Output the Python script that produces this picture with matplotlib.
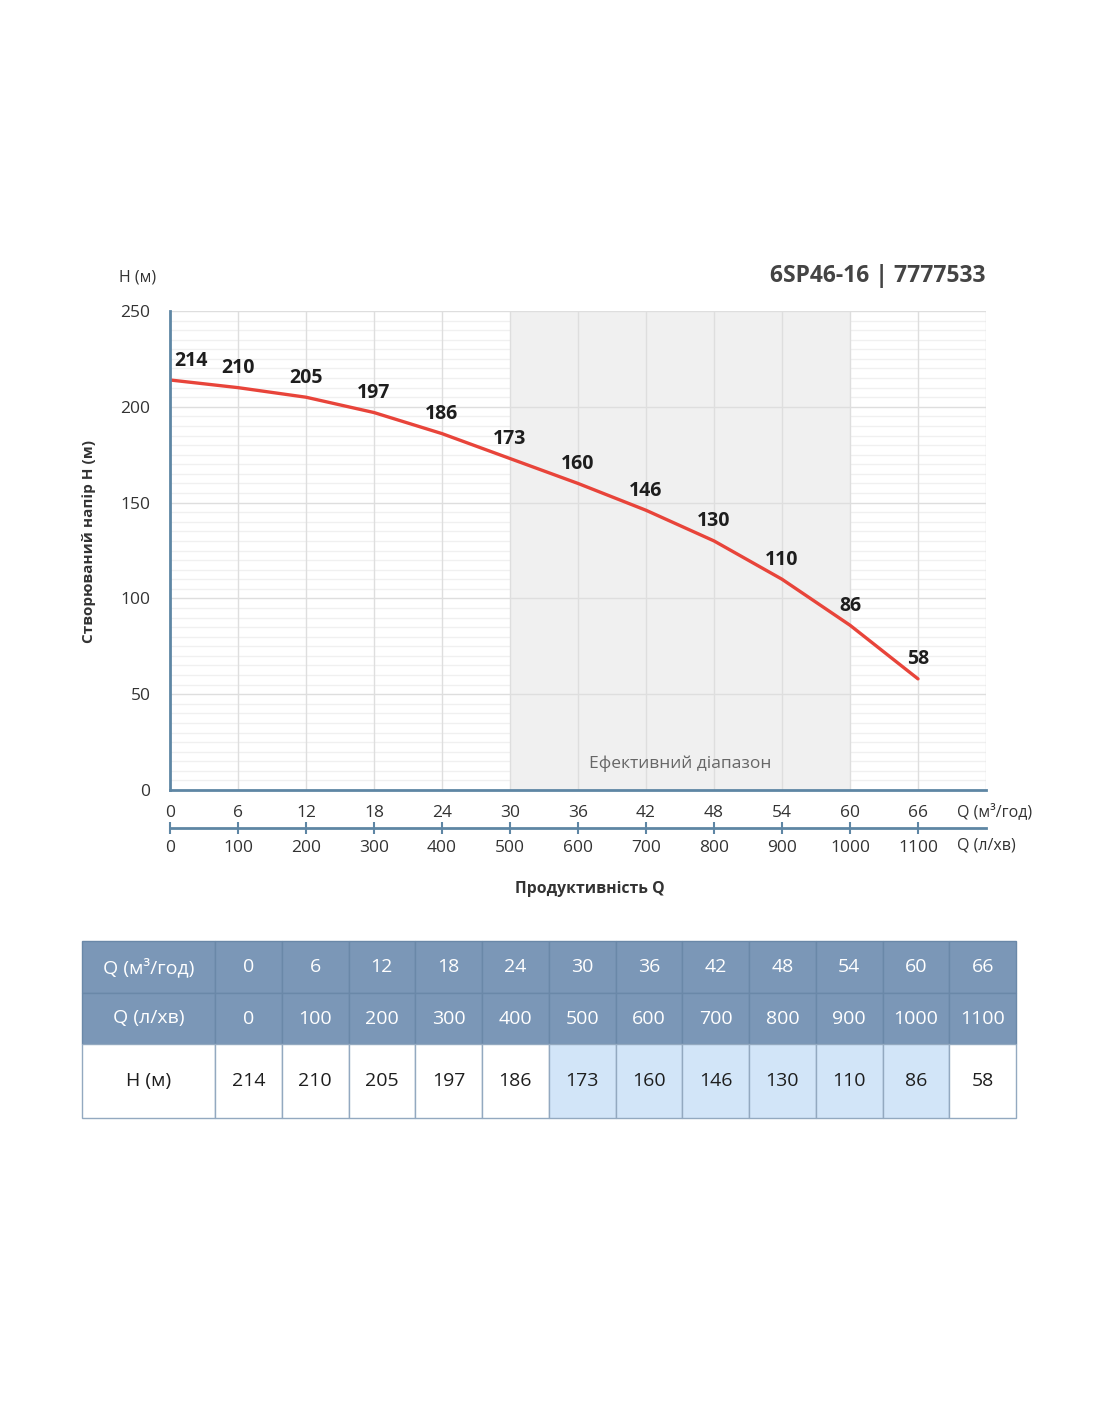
import matplotlib
matplotlib.use("Agg")
import matplotlib.pyplot as plt

plt.rcParams['font.family'] = ['Open Sans', 'DejaVu Sans']

# ---------- дані ----------
q_m3h = [0, 6, 12, 18, 24, 30, 36, 42, 48, 54, 60, 66]
q_lmin = [0, 100, 200, 300, 400, 500, 600, 700, 800, 900, 1000, 1100]
head_m = [214, 210, 205, 197, 186, 173, 160, 146, 130, 110, 86, 58]
eff_range = (30, 60)

title = "6SP46-16 | 7777533"
row_labels = ["Q (м³/год)", "Q (л/хв)", "H (м)"]

# ---------- стилі ----------
W, H = 1100, 1422
spine_c = "#5e86a4"
grid_major = "#dedede"
grid_minor = "#f0f0f0"
span_c = "#f0f0f0"
curve_c = "#e8443a"
head_c = "#7b97b7"
hl_c = "#d2e5f8"
text_c = "#333333"
tick_fs = 12.5


def fx(px):
    return px / W


def fy(py):
    return 1 - py / H


fig = plt.figure(figsize=(W / 100, H / 100), dpi=100)

# ---------- основний графік ----------
ax = fig.add_axes([fx(170), fy(790), (986 - 170) / W, (790 - 311) / H])
ax.set_xlim(0, 72)
ax.set_ylim(0, 250)

for y in range(5, 250, 5):
    if y % 50:
        ax.axhline(y, color=grid_minor, lw=1, zorder=0.5)
ax.axvspan(*eff_range, color=span_c, lw=0, zorder=1)
for y in range(50, 251, 50):
    ax.axhline(y, color=grid_major, lw=1, zorder=1.5)
for x in range(6, 73, 6):
    ax.axvline(x, color=grid_major, lw=1, zorder=1.5)

ax.plot(q_m3h, head_m, color=curve_c, lw=2.4, zorder=3, solid_capstyle="round")
for i, (q, h) in enumerate(zip(q_m3h, head_m)):
    dx = 15 if i == 0 else 0
    ax.annotate(str(h), (q, h), xytext=(dx, 14), textcoords="offset points",
                ha="center", va="center", fontsize=14, fontweight="bold",
                color="#1e1e1e", zorder=4)

ax.text(sum(eff_range) / 2, 13.5, "Ефективний діапазон", ha="center", va="center",
        fontsize=12.5, color="#666666", zorder=4)

for s in ["top", "right"]:
    ax.spines[s].set_visible(False)
for s in ["left", "bottom"]:
    ax.spines[s].set_color(spine_c)
    ax.spines[s].set_linewidth(2)
    ax.spines[s].set_zorder(5)

ax.set_yticks(range(0, 251, 50))
ax.set_xticks(q_m3h)
ax.set_xticklabels([str(v) for v in q_m3h])
ax.tick_params(axis="y", length=0, pad=14, labelsize=tick_fs, labelcolor=text_c)
ax.tick_params(axis="x", length=0, pad=11, labelsize=tick_fs, labelcolor=text_c)

# ---------- друга шкала (л/хв) ----------
ax2 = fig.add_axes([fx(170), fy(828), (986 - 170) / W, 0.0005])
ax2.set_xlim(0, 72)
ax2.set_ylim(0, 1)
ax2.patch.set_visible(False)
for s in ["top", "right", "left"]:
    ax2.spines[s].set_visible(False)
ax2.spines["bottom"].set_color(spine_c)
ax2.spines["bottom"].set_linewidth(2)
ax2.set_yticks([])
ax2.set_xticks(q_m3h)
ax2.set_xticklabels([str(v) for v in q_lmin])
ax2.tick_params(axis="x", direction="inout", length=8, width=1.5, color=spine_c,
                pad=5, labelsize=tick_fs, labelcolor=text_c)

fig.text(fx(957), fy(812), "Q (м³/год)", ha="left", va="center", fontsize=11.5, color=text_c)
fig.text(fx(957), fy(846), "Q (л/хв)", ha="left", va="center", fontsize=11.5, color=text_c)
fig.text(fx(138), fy(278), "H (м)", ha="center", va="center", fontsize=11.5, color=text_c)
fig.text(fx(986), fy(276), title, ha="right", va="center", fontsize=16.5,
         fontweight="bold", color="#444444")
fig.text(fx(89), fy(541), "Створюваний напір H (м)", rotation=90, ha="center",
         va="center", fontsize=11, fontweight="bold", color=text_c)
fig.text(fx(590), fy(889), "Продуктивність Q", ha="center", va="center",
         fontsize=11.3, fontweight="bold", color=text_c)

# ---------- таблиця ----------
tax = fig.add_axes([fx(82), fy(1118), (1016 - 82) / W, (1118 - 941) / H])
tax.axis("off")

cells = [
    [row_labels[0]] + [str(v) for v in q_m3h],
    [row_labels[1]] + [str(v) for v in q_lmin],
    [row_labels[2]] + [str(v) for v in head_m],
]
n = len(q_m3h)
first_w = 133
col_w = (1016 - 82 - first_w) / n
row_h = [52, 51, 74]

tbl = tax.table(cellText=cells, bbox=[0, 0, 1, 1], cellLoc="center")
tbl.auto_set_font_size(False)
for (r, c), cell in tbl.get_celld().items():
    cell.set_width(first_w if c == 0 else col_w)
    cell.set_height(row_h[r])
    cell.set_linewidth(1)
    txt = cell.get_text()
    txt.set_fontsize(14)
    if r < 2:
        cell.set_facecolor(head_c)
        cell.set_edgecolor("#6a88a8")
        txt.set_color("white")
    else:
        q = q_m3h[c - 1] if c > 0 else None
        if q is not None and eff_range[0] <= q <= eff_range[1]:
            cell.set_facecolor(hl_c)
        else:
            cell.set_facecolor("white")
        cell.set_edgecolor("#93a9c0")
        txt.set_color("#1e1e1e")

fig.savefig("out.png", dpi=100, facecolor="white")
